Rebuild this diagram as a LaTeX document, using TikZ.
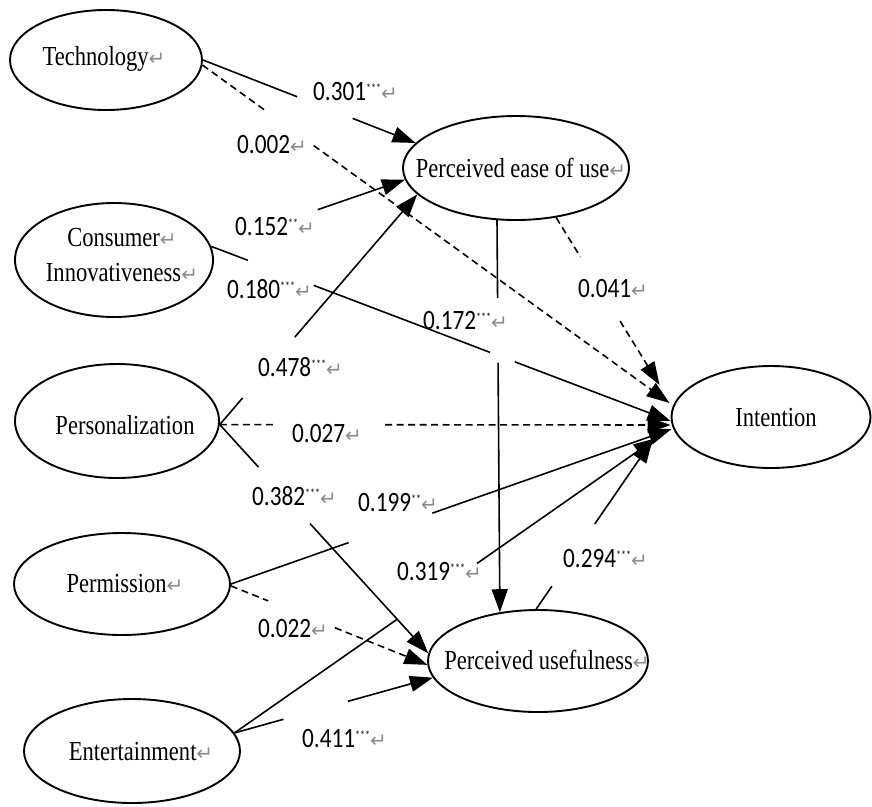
\documentclass[tikz,border=0pt]{standalone}
\usepackage{fontspec}
\setmainfont{Liberation Serif}[FakeStretch=0.82]
\newfontfamily\numfont{Carlito}[FakeStretch=0.83]
\newfontfamily\markfont{DejaVu Sans}
\usetikzlibrary{arrows.meta,calc,shapes.geometric}
\newcommand{\retmark}{{\markfont\fontsize{20}{20}\selectfont\color{black!45}↵}}
\newcommand{\starmark}[1]{\raisebox{8pt}{\fontsize{12}{12}\selectfont #1}}
\newcommand{\coefval}[2]{{\numfont\fontsize{28}{30}\selectfont #1\starmark{#2}}\retmark}
\newcommand{\gapline}[5]{\draw[#1] (#2) -- ($(#2)!#4!(#3)$) ($(#2)!#5!(#3)$) -- (#3);}
\begin{document}
\begin{tikzpicture}[x=1pt,y=-1pt,
  ell/.style={draw, ellipse, line width=1.9pt, inner sep=0pt},
  txt/.style={inner sep=0pt, align=center, font=\fontsize{27.5}{35}\selectfont},
  conn/.style={line width=1.6pt, -{Triangle[length=23pt,width=16pt]}},
  dconn/.style={conn, dash pattern=on 7pt off 4.5pt},
  coef/.style={anchor=base west, inner sep=0pt}]
\useasboundingbox (0,0) rectangle (872,806);
% ellipses
\node[ell, minimum width=192pt, minimum height=100pt] (tech) at (106,60) {};
\node[ell, minimum width=198pt, minimum height=114pt] (ci) at (114,260) {};
\node[ell, minimum width=204pt, minimum height=114pt] (pers) at (117,421) {};
\node[ell, minimum width=216pt, minimum height=102pt] (perm) at (122,584) {};
\node[ell, minimum width=216pt, minimum height=104pt] (ent) at (132,751) {};
\node[ell, minimum width=226pt, minimum height=104pt] (peou) at (516,168) {};
\node[ell, minimum width=199pt, minimum height=102pt] (intent) at (771,417) {};
\node[ell, minimum width=220pt, minimum height=102pt] (pu) at (538,661) {};
% texts
\node[txt] (techT) at (104,59) {Technology\retmark};
\node[txt] (ciT) at (122,255) {Consumer\retmark\\Innovativeness\retmark};
\node[txt] (persT) at (125,425) {Personalization};
\node[txt] (permT) at (125,584) {Permission\retmark};
\node[txt] (entT) at (141,752) {Entertainment\retmark};
\node[txt] (peouT) at (521,168) {Perceived ease of use\retmark};
\node[txt] (intentT) at (776,418) {Intention};
\node[txt] (puT) at (547,660) {Perceived usefulness\retmark};
% arrow end points at Intention
\coordinate (iPE) at ($(intent.west)+(-11,-32)$);
\coordinate (iT) at ($(intent.west)+(-1,-14)$);
\coordinate (iC) at ($(intent.west)+(0,4)$);
\coordinate (iP) at ($(intent.west)+(0,8)$);
\coordinate (iM) at ($(intent.west)+(1,12)$);
\coordinate (iE) at ($(intent.west)+(-14,21)$);
\coordinate (iU) at ($(intent.west)+(-18,23)$);
% connectors
\gapline{conn}{tech.east}{peou.166}{0.443}{0.704}
\gapline{dconn}{tech.-3}{iT}{0.136}{0.238}
\draw[conn] ($(ci.8)!0.55!(peou.186)$) -- (peou.186);
\draw[conn] (ci.8) -- ($(ci.8)!0.080!(iC)$) ($(ci.8)!0.223!(iC)$) -- ($(ci.8)!0.607!(iC)$) ($(ci.8)!0.661!(iC)$) -- (iC);
\gapline{conn}{pers.-2}{peou.195}{0.116}{0.38}
\gapline{dconn}{pers.-2}{iP}{0.124}{0.367}
\gapline{conn}{pers.-2}{pu.176}{0.186}{0.433}
\gapline{conn}{perm.east}{iM}{0.267}{0.457}
\gapline{dconn}{perm.-1}{pu.182}{0.19}{0.53}
\gapline{conn}{ent.10}{iE}{0.386}{0.575}
\gapline{conn}{ent.10}{pu.189}{0.247}{0.572}
\gapline{conn}{peou.250}{pu.128}{0.198}{0.363}
\gapline{dconn}{peou.-51}{iPE}{0.235}{0.618}
\gapline{conn}{pu.92}{iU}{0.135}{0.503}
% coefficients
\node[coef] (c1) at (313,100) {\coefval{0.301}{***}};
\node[coef] (c2) at (237,153) {\coefval{0.002}{}};
\node[coef] (c3) at (235,235) {\coefval{0.152}{**}};
\node[coef] (c4) at (227,298) {\coefval{0.180}{***}};
\node[coef] (c5) at (423,329) {\coefval{0.172}{***}};
\node[coef] (c6) at (578,297) {\coefval{0.041}{}};
\node[coef] (c7) at (258,376) {\coefval{0.478}{***}};
\node[coef] (c8) at (292,442) {\coefval{0.027}{}};
\node[coef] (c9) at (252,505) {\coefval{0.382}{***}};
\node[coef] (c10) at (358,511) {\coefval{0.199}{**}};
\node[coef] (c11) at (397,580) {\coefval{0.319}{***}};
\node[coef] (c12) at (563,567) {\coefval{0.294}{***}};
\node[coef] (c13) at (258,637) {\coefval{0.022}{}};
\node[coef] (c14) at (302,747) {\coefval{0.411}{***}};
\end{tikzpicture}
\end{document}
